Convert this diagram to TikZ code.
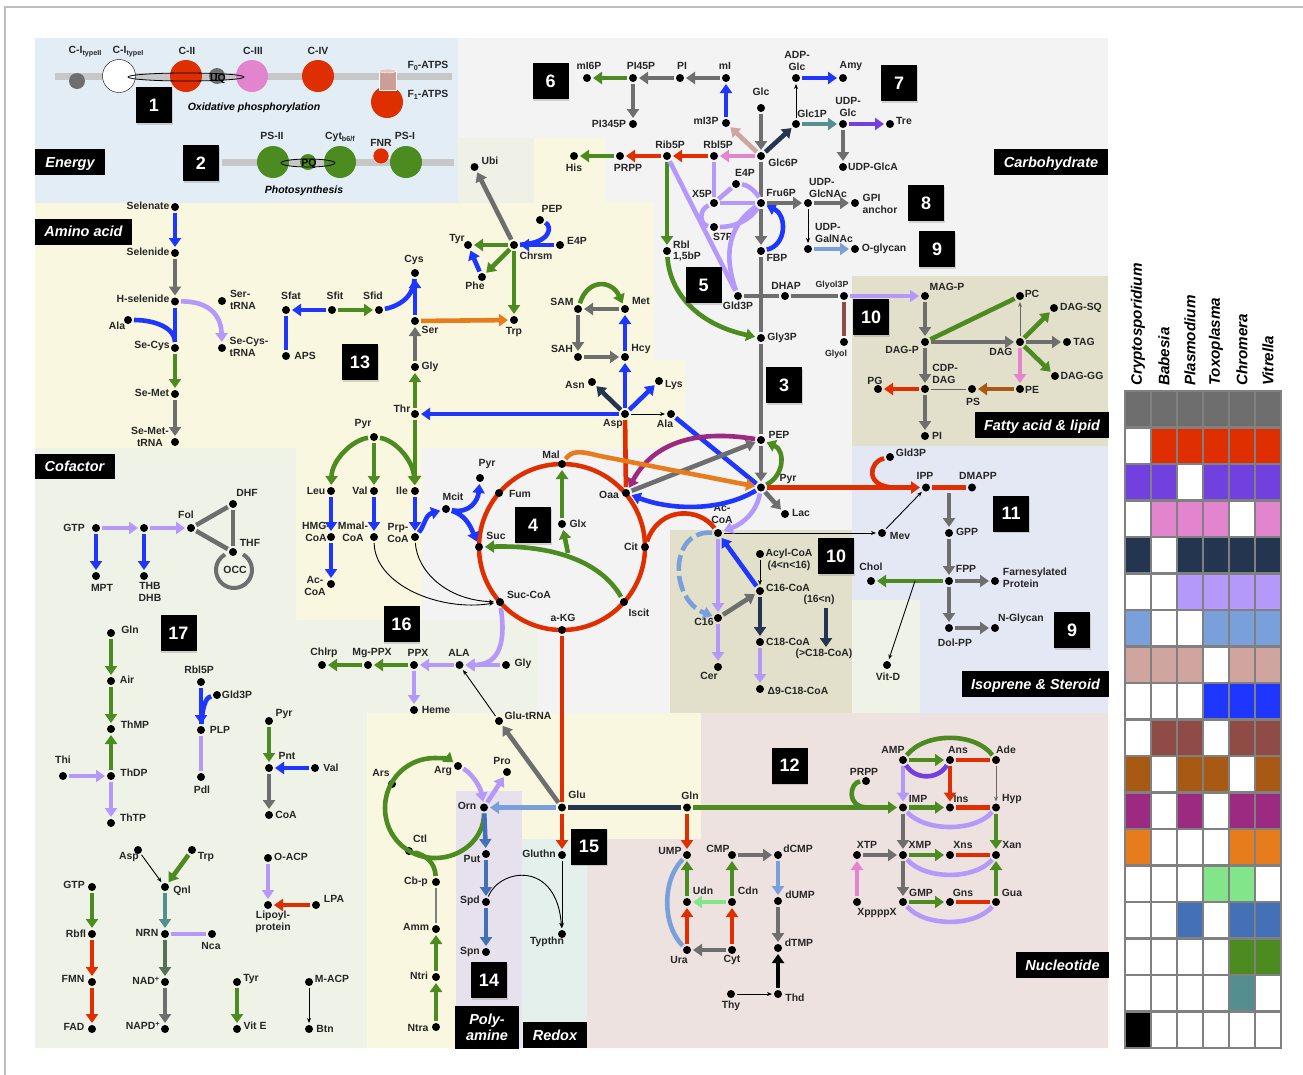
\documentclass[tikz,border=0pt]{standalone}
\usepackage{fontspec}
\setmainfont{Liberation Sans}
\usetikzlibrary{arrows.meta,shadows}
\definecolor{cRed}{HTML}{DF2E00}
\definecolor{cVio}{HTML}{7340E0}
\definecolor{cPink}{HTML}{E384CE}
\definecolor{cNavy}{HTML}{24364F}
\definecolor{cLav}{HTML}{B499FB}
\definecolor{cLtB}{HTML}{79A0DA}
\definecolor{cRose}{HTML}{D0A5A0}
\definecolor{cBlue}{HTML}{1F36FF}
\definecolor{cMar}{HTML}{8F4B46}
\definecolor{cBrn}{HTML}{A85A14}
\definecolor{cMag}{HTML}{9C2A80}
\definecolor{cOra}{HTML}{E67C1C}
\definecolor{cLtG}{HTML}{82E58A}
\definecolor{cMid}{HTML}{4470B8}
\definecolor{cGrn}{HTML}{4B8B20}
\definecolor{cTeal}{HTML}{548E8E}
\definecolor{cGry}{HTML}{6E6E6E}
\definecolor{cDkG}{HTML}{56705A}
\definecolor{bgEn}{HTML}{E3EDF5}
\definecolor{bgGr}{HTML}{F3F3F3}
\definecolor{bgYe}{HTML}{FAF7E0}
\definecolor{bgCo}{HTML}{EFF2E6}
\definecolor{bgLi}{HTML}{E2DFCB}
\definecolor{bgIs}{HTML}{E3E8F4}
\definecolor{bgNu}{HTML}{EEE2E0}
\definecolor{bgRe}{HTML}{E4F0EC}
\definecolor{bgPo}{HTML}{E6E1EC}
\definecolor{bgUb}{HTML}{EFF0E6}
\tikzset{
 pdot/.style={circle,fill=black,inner sep=0pt,minimum size=8pt,outer sep=2pt},
 lab/.style={inner sep=0pt,align=center,font=\fontsize{10.4}{11.6}\selectfont\bfseries,text=black!85},
 labl/.style={lab,align=left},
 ar/.style={line width=4.6pt,-{Triangle[length=9pt,width=12pt]}},
 ln/.style={line width=4.6pt},
 tar/.style={line width=.9pt,black,-{Stealth[length=5pt,width=4pt]}},
 blk/.style={fill=black,text=white,inner sep=0pt,align=center,font=\fontsize{14.5}{16}\selectfont\bfseries\itshape},
 blko/.style={blk,text height=12pt,text depth=2pt},
 num/.style={fill=black,text=white,inner sep=0pt,minimum size=36pt,font=\fontsize{18}{18}\selectfont\bfseries,drop shadow={shadow xshift=.6pt,shadow yshift=-1.5pt,opacity=.3}},
 blob/.style={circle,inner sep=0pt,minimum size=32pt},
 bar/.style={line width=7pt,black!22},
 ttl/.style={inner sep=0pt,font=\fontsize{10.5}{12}\selectfont\bfseries\itshape},
 col/.style={inner sep=0pt,rotate=90,anchor=west,font=\fontsize{15.2}{16}\selectfont\bfseries\itshape}
}
\newcommand\pt[6]{\node[pdot] (#1) at (#2,#3) {}; \node[lab] (#1L) at (#5,#6) {#4};}
\newcommand\ptl[6]{\node[pdot] (#1) at (#2,#3) {}; \node[labl] (#1L) at (#5,#6) {#4};}
\newcommand\arw[3]{\draw[ar,#1] (#2) -- (#3);}
\newcommand\lnk[3]{\draw[ln,#1] (#2) -- (#3);}
\newcommand\tnk[2]{\draw[tar] (#1) -- (#2);}
\newcommand\sbs[1]{\raisebox{-2.2pt}{\fontsize{7.2}{7}\selectfont #1}}
\begin{document}
\begin{tikzpicture}[x=1pt,y=-1pt]
\useasboundingbox (0,0) rectangle (1303,1074);
\fill[white] (0,0) rectangle (1303,1074);
\draw[black!25,line width=1.2pt] (5,1080) -- (5,7) -- (1310,7);
% backgrounds
\fill[bgGr] (422,38) rectangle (1108,713);
\fill[bgEn] (35,38) rectangle (458,203);
\fill[bgUb] (458,138) rectangle (534,203);
\fill[bgYe] (534,138) -- (605,138) -- (605,202) -- (654,202) -- (654,360) -- (685,360) -- (685,448) -- (422,448) -- (422,620) -- (296,620) -- (296,448) -- (35,448) -- (35,203) -- (534,203) -- cycle;
\fill[bgCo] (35,448) -- (296,448) -- (296,620) -- (537,620) -- (537,713) -- (367,713) -- (367,1048) -- (35,1048) -- cycle;
\fill[bgYe] (367,713) -- (701,713) -- (701,839) -- (522,839) -- (522,791) -- (456,791) -- (456,1048) -- (367,1048) -- cycle;
\fill[bgPo] (456,791) rectangle (522,1048);
\fill[bgRe] (522,839) rectangle (587,1048);
\fill[bgNu] (701,713) -- (1108,713) -- (1108,1048) -- (587,1048) -- (587,839) -- (701,839) -- cycle;
\fill[bgLi] (852,276) rectangle (1108,446);
\fill[bgLi] (670,530) rectangle (852,713);
\fill[bgIs] (852,446) rectangle (1108,713);
\fill[bgCo] (852,600) rectangle (920,713);
% energy
\draw[bar] (55,76) -- (452,76);
\draw[bar] (222,162) -- (454,162);
\node[blob,fill=cGry,minimum size=16pt] (c1b) at (77,81) {};
\node[blob,fill=white,draw=black,minimum size=33pt] (c1a) at (119,76) {};
\node[blob,fill=cRed] (c2) at (186,76) {};
\node[blob,fill=cGry,minimum size=16pt] (uq) at (217,76) {};
\node[blob,fill=cPink] (c3) at (252,76) {};
\node[blob,fill=cRed] (c4) at (318,76) {};
\node[blob,fill=cRed] (f1) at (387,102) {};
\fill[cRed!45!black!5!cRose,draw=white] (379,71) rectangle (396,90);
\draw[white,fill=cRose!60!white] (387.5,71) ellipse [x radius=8.5pt,y radius=2pt];
\draw[black,line width=.8pt] (186,77) ellipse [x radius=58pt,y radius=4pt];
\node[inner sep=0pt,font=\fontsize{10.5}{12}\selectfont\bfseries] (uqt) at (218,79) {UQ};
\node[blob,fill=cGrn] (p2) at (273,162) {};
\node[blob,fill=cGrn,minimum size=16pt] (pq) at (308,162) {};
\node[blob,fill=cGrn] (cyt) at (340,162) {};
\node[blob,fill=cGrn] (p1) at (406,162) {};
\node[blob,fill=cRed,draw=white,minimum size=16pt] (fnr) at (381,156) {};
\draw[black,line width=.8pt] (308,163) ellipse [x radius=27pt,y radius=4pt];
\node[inner sep=0pt,font=\fontsize{10.5}{12}\selectfont\bfseries] (pqt) at (309,164) {PQ};
\node[lab] (l1) at (85,52) {C-I\sbs{typeII}};
\node[lab] (l2) at (128,52) {C-I\sbs{typeI}};
\node[lab] (l3) at (187,51) {C-II};
\node[lab] (l4) at (253,51) {C-III};
\node[lab] (l5) at (318,51) {C-IV};
\node[lab] (l6) at (428,66) {F\sbs{0}-ATPS};
\node[lab] (l7) at (428,95) {F\sbs{1}-ATPS};
\node[ttl] (l8) at (254,108) {Oxidative phosphorylation};
\node[lab] (l9) at (272,136) {PS-II};
\node[lab] (l10) at (340,137) {Cyt\sbs{b6/f}};
\node[lab] (l11) at (381,143) {FNR};
\node[lab] (l12) at (405,136) {PS-I};
\node[ttl] (l13) at (304,191) {Photosynthesis};
% TCA cycle
\coordinate (tca) at (562,547);
\draw[cRed,line width=4.5pt] (tca) circle [radius=83pt];
% amino acid nodes
\pt{Selenate}{175}{207}{Selenate}{148}{205.5}
\pt{Selenide}{175}{253}{Selenide}{148}{252}
\pt{Hsel}{175}{301.5}{H-selenide}{143}{299}
\pt{AlaA}{128}{320}{Ala}{117}{326}
\pt{SeCys}{175}{348}{Se-Cys}{152}{346}
\pt{SeMet}{175}{394}{Se-Met}{152}{393}
\pt{SeMetT}{175}{442}{Se-Met-\\tRNA}{150}{437}
\ptl{SerT}{222}{301}{Ser-\\tRNA}{243}{300}
\ptl{SeCysT}{222}{348}{Se-Cys-\\tRNA}{249}{347}
\pt{Sfat}{286}{310}{Sfat}{291}{296}
\pt{Sfit}{332}{310}{Sfit}{335}{296}
\pt{Sfid}{379}{310}{Sfid}{373}{296}
\pt{APS}{286}{356}{APS}{305}{356}
\pt{Cys}{415}{273}{Cys}{414}{260}
\pt{Ser}{415}{321}{Ser}{430}{330}
\pt{Gly}{415}{367}{Gly}{430}{367}
\pt{Thr}{415}{414}{Thr}{402}{409}
\pt{Trp}{514}{320}{Trp}{514}{332}
\pt{Ubi}{474.5}{167}{Ubi}{490}{161}
\pt{Chrsm}{514}{245}{Chrsm}{536}{256}
\pt{Tyr}{468}{245}{Tyr}{457}{239}
\pt{Phe}{482}{277}{Phe}{475}{286}
\pt{PEPa}{540}{220}{PEP}{552}{209}
\pt{E4Pa}{560}{245}{E4P}{577}{241}
\pt{SAM}{578}{309}{SAM}{562}{302}
\pt{SAH}{578}{357}{SAH}{562}{349}
\pt{Met}{625}{309}{Met}{641}{301}
\pt{Hcy}{625}{357}{Hcy}{641}{349}
\pt{Asn}{592}{382}{Asn}{575}{385}
\pt{Asp}{625}{414}{Asp}{613}{424}
\pt{Lys}{659}{381}{Lys}{674}{385}
\pt{AlaB}{671}{414}{Ala}{665}{424}
\pt{PyrA}{374}{437}{Pyr}{363}{424}
\pt{Leu}{331}{491}{Leu}{316}{491}
\pt{Val}{374}{491}{Val}{360}{491}
\pt{Ile}{415}{491}{Ile}{402}{491}
\pt{HMG}{331}{537}{HMG-\\CoA}{316}{532}
\pt{Mmal}{374}{537}{Mmal-\\CoA}{353}{532}
\pt{Prp}{415}{537}{Prp-\\CoA}{398}{533}
\pt{AcA}{331}{584}{Ac-\\CoA}{315}{586}
\pt{Mcit}{446}{509}{Mcit}{453}{497}
\pt{PyrB}{480}{478}{Pyr}{487}{464}
\pt{Fum}{499}{493}{Fum}{520}{494}
\pt{Suc}{479}{547}{Suc}{496}{536}
\pt{SucCoA}{500}{602}{Suc-CoA}{529}{595}
\pt{aKG}{562}{630}{a-KG}{563}{618}
\pt{Iscit}{624}{602}{Iscit}{639}{613}
\pt{Cit}{645}{547}{Cit}{631}{547}
\pt{Oaa}{626}{493}{Oaa}{609}{495}
\pt{Mal}{562}{464}{Mal}{551}{455}
\pt{Glx}{562}{524}{Glx}{578}{524}
\pt{Chlrp}{322}{665}{Chlrp}{324}{653}
\pt{MgPPX}{368}{665}{Mg-PPX}{372}{653}
\pt{PPX}{414}{665}{PPX}{418}{653}
\pt{ALA}{459.5}{665}{ALA}{459}{653}
\pt{GlyB}{506}{665}{Gly}{523}{664}
\pt{Heme}{414}{710}{Heme}{436}{710}
\pt{GluT}{499}{721}{Glu-tRNA}{528}{716}
\pt{Glu}{562}{807.5}{Glu}{577}{795}
\pt{GlnA}{687}{807.5}{Gln}{690}{796}
\pt{Orn}{484}{807.5}{Orn}{467}{806}
\pt{Arg}{458}{766}{Arg}{443}{771}
\pt{Pro}{507}{772}{Pro}{502}{761}
\pt{Ars}{392}{784}{Ars}{381}{773}
\pt{Ctl}{409}{851}{Ctl}{420}{839}
\pt{Cbp}{436}{882}{Cb-p}{416}{882}
\pt{Amm}{436}{929}{Amm}{416}{927}
\pt{Ntri}{436}{977}{Ntri}{419}{976}
\pt{Ntra}{436}{1027}{Ntra}{418}{1028}
\pt{Put}{486}{854}{Put}{472}{859}
\pt{Spd}{486}{902}{Spd}{470}{901}
\pt{Spn}{486}{952}{Spn}{470}{952}
\pt{Gluthn}{562}{855}{Gluthn}{539}{854}
\pt{Typthn}{562}{934}{Typthn}{547}{942}
% nucleotide
\pt{UMP}{687}{855}{UMP}{670}{851}
\pt{Udn}{687}{902}{Udn}{703}{891}
\pt{Ura}{687}{950}{Ura}{679}{960}
\pt{CMP}{732}{855}{CMP}{718}{849}
\pt{Cdn}{732}{902}{Cdn}{748}{891}
\pt{Cyt}{732}{950}{Cyt}{732}{960}
\pt{dCMP}{778}{855}{dCMP}{798}{849}
\pt{dUMP}{778}{901}{dUMP}{800}{895}
\pt{dTMP}{778}{948}{dTMP}{799}{943}
\pt{Thd}{778}{994}{Thd}{795}{998}
\pt{Thy}{731}{994}{Thy}{731}{1006}
\pt{AMP}{903}{760}{AMP}{893}{750}
\pt{Ans}{950}{760}{Ans}{958}{750}
\pt{Ade}{996}{760}{Ade}{1006}{750}
\pt{IMP}{903}{807.5}{IMP}{918}{799}
\pt{Ins}{950}{807.5}{Ins}{961}{799}
\pt{Hyp}{996}{807.5}{Hyp}{1012}{799}
\pt{XMP}{903}{855}{XMP}{920}{845}
\pt{Xns}{950}{855}{Xns}{963}{845}
\pt{Xan}{996}{855}{Xan}{1012}{845}
\pt{GMP}{903}{902}{GMP}{921}{893}
\pt{Gns}{950}{902}{Gns}{963}{893}
\pt{Gua}{996}{902}{Gua}{1012}{893}
\pt{XTP}{857}{855}{XTP}{867}{845}
\pt{Xpp}{857}{902}{XppppX}{877}{913}
\pt{PRPPb}{866}{781}{PRPP}{864}{772}
% carbohydrate
\pt{mI6P}{587}{78}{mI6P}{589}{66}
\pt{PI45P}{633}{78}{PI45P}{641}{66}
\pt{PIa}{680}{78}{PI}{682}{66}
\pt{mI}{726}{78}{mI}{725}{66}
\pt{PI345P}{633}{124}{PI345P}{609}{124}
\pt{mI3P}{726}{123}{mI3P}{706}{121}
\pt{Glc}{761}{108}{Glc}{761}{92}
\pt{Glc6P}{761}{156}{Glc6P}{783}{163}
\pt{Rbl5P}{714}{156}{Rbl5P}{718}{145}
\pt{Rib5P}{667}{156}{Rib5P}{670}{145}
\pt{PRPPa}{620}{156}{PRPP}{628}{168}
\pt{His}{574}{156}{His}{574}{168}
\pt{E4P}{736}{184}{E4P}{745}{173}
\pt{X5P}{714}{203}{X5P}{702}{194}
\pt{Fru6P}{761}{203}{Fru6P}{781}{193}
\pt{S7P}{714}{227}{S7P}{723}{237}
\pt{FBP}{761}{251}{FBP}{777}{258}
\ptl{Rbl}{667}{251}{Rbl\\1,5bP}{687}{251}
\pt{Gld3P}{738}{296}{Gld3P}{738}{306}
\pt{DHAP}{785}{296}{DHAP}{786}{286}
\pt{Glyol3P}{844}{296}{\fontsize{8.8}{10}\selectfont Glyol3P}{832}{285}
\pt{Glyol}{844}{342}{\fontsize{8.8}{10}\selectfont Glyol}{836}{354}
\pt{Gly3P}{761}{338}{Gly3P}{782}{338}
\pt{ADPG}{796}{78}{ADP-\\Glc}{797}{61}
\pt{Amy}{843}{78}{Amy}{851}{66}
\pt{Glc1P}{796}{124}{Glc1P}{812}{114}
\pt{UDPG}{843}{124}{UDP-\\Glc}{848}{107}
\pt{Tre}{890}{124}{Tre}{904}{121}
\pt{UGlcA}{843}{167}{UDP-GlcA}{873}{167}
\ptl{UGNAc}{808}{203}{UDP-\\GlcNAc}{828}{188}
\ptl{GPI}{855}{203}{GPI\\anchor}{880}{204}
\ptl{UGalN}{808}{249}{UDP-\\GalNAc}{834}{233}
\pt{Ogly}{855}{249}{O-glycan}{884}{249}
% lipid
\pt{MAGP}{925}{296}{MAG-P}{947}{287}
\pt{DAGP}{925}{342}{DAG-P}{902}{350}
\pt{PC}{1020}{296}{PC}{1032}{294}
\pt{DAG}{1020}{342}{DAG}{1001}{352}
\pt{SQ}{1054}{308}{DAG-SQ}{1081}{308}
\pt{TAG}{1067}{342}{TAG}{1084}{342}
\pt{GG}{1055}{376}{DAG-GG}{1082}{376}
\pt{PE}{1020}{389}{PE}{1032}{390}
\pt{PS}{972}{389}{PS}{973}{402}
\ptl{CDP}{925}{389}{CDP-\\DAG}{945}{374}
\pt{PG}{878}{389}{PG}{875}{381}
\pt{PIb}{925}{436}{PI}{937}{436}
% isoprene
\pt{GldB}{890}{457}{Gld3P}{911}{453}
\pt{IPP}{926}{487.5}{IPP}{925}{476}
\pt{DMAPP}{972}{487.5}{DMAPP}{978}{476}
\pt{Mev}{882}{533}{Mev}{900}{536}
\pt{GPP}{949}{533}{GPP}{967}{532}
\pt{FPP}{949}{581}{FPP}{966}{569}
\pt{Chol}{871}{581}{Chol}{871}{567}
\ptl{Farn}{995}{581}{Farnesylated\\Protein}{1035}{578}
\pt{Dol}{949}{628}{Dol-PP}{955}{643}
\pt{NGly}{995}{628}{N-Glycan}{1021}{619}
\pt{VitD}{887}{665}{Vit-D}{888}{677}
% pyruvate, fatty acid
\pt{PEP}{761}{440}{PEP}{779}{435}
\pt{Pyr}{761}{487.5}{Pyr}{788}{479}
\pt{Lac}{785}{514}{Lac}{801}{513}
\pt{AcB}{718}{533}{Ac-\\CoA}{722}{514}
\pt{Acyl}{760}{554}{Acyl-CoA\\(4<n<16)}{789}{560}
\pt{C16C}{760}{591}{C16-CoA}{788}{588}
\pt{C16}{718}{618}{C16}{704}{622}
\pt{C18C}{760}{642}{C18-CoA}{788}{642}
\pt{Cer}{718}{667}{Cer}{709}{676}
\pt{Dnine}{760}{689}{Δ9-C18-CoA}{798}{691}
\node[lab] (n16) at (819,600) {(16<n)};
\node[lab] (gC18) at (824,654) {(>C18-CoA)};
\coordinate (nvA) at (826,608);
\coordinate (nvB) at (826,647);
% cofactor
\pt{GTPa}{96}{528}{GTP}{74}{528}
\node[pdot] (n2) at (144,528) {};
\pt{MPT}{96}{576}{MPT}{102}{588}
\pt{THB}{144}{576}{THB\\DHB}{150}{592}
\pt{Fol}{191}{528}{Fol}{186}{515}
\pt{DHF}{233}{504}{DHF}{247}{493}
\pt{THF}{233}{552}{THF}{250}{543}
\node[lab] (occ) at (235,570) {OCC};
\pt{GlnB}{111}{633}{Gln}{130}{630}
\pt{Air}{111}{681}{Air}{127}{680}
\pt{ThMP}{111}{729}{ThMP}{135}{725}
\pt{ThDP}{111}{776}{ThDP}{134}{773}
\pt{ThTP}{111}{823}{ThTP}{133}{818}
\pt{Thi}{63}{776}{Thi}{63}{760}
\pt{RblB}{201}{682}{Rbl5P}{199}{670}
\pt{GldC}{217}{695}{Gld3P}{237}{695}
\pt{PLP}{201}{730}{PLP}{220}{730}
\pt{Pdl}{201}{777}{Pdl}{202}{790}
\pt{PyrC}{269}{721}{Pyr}{284}{714}
\pt{Pnt}{269}{768}{Pnt}{287}{756}
\pt{ValB}{315}{768}{Val}{331}{768}
\pt{CoA}{269}{815}{CoA}{286}{815}
\pt{AspB}{138}{850}{Asp}{129}{857}
\pt{TrpB}{192}{850}{Trp}{206}{857}
\pt{Qnl}{165}{887}{Qnl}{182}{891}
\pt{OACP}{268}{858}{O-ACP}{291}{857}
\pt{LPA}{316}{905}{LPA}{334}{899}
\pt{Lipoyl}{268}{905}{Lipoyl-\\protein}{273}{922}
\pt{GTPb}{92}{887}{GTP}{74}{885}
\pt{Rbfl}{92}{934}{Rbfl}{76}{934}
\pt{FMN}{92}{982}{FMN}{73}{979}
\pt{FAD}{92}{1029}{FAD}{74}{1027}
\pt{NRN}{165}{934}{NRN}{147}{933}
\pt{Nca}{212}{934}{Nca}{211}{946}
\pt{NAD}{165}{982}{NAD\textsuperscript{+}}{146}{981}
\pt{NAPD}{165}{1029}{NAPD\textsuperscript{+}}{143}{1026}
\pt{TyrB}{237}{982}{Tyr}{251}{979}
\pt{VitE}{237}{1029}{Vit E}{255}{1026}
\pt{MACP}{309}{982}{M-ACP}{332}{979}
\pt{Btn}{309}{1029}{Btn}{325}{1029}
% free ends
\coordinate (branch) at (568,553);
\coordinate (gppS) at (949,493);
\coordinate (cholV) at (915,581);
\coordinate (ippS) at (895,487.5);
% connectors: amino acid
\arw{cBlue}{Selenate}{Selenide}
\arw{cGry}{Selenide}{Hsel}
\lnk{cBlue}{Hsel}{SeCys}
\draw[ln,cBlue] (AlaA) .. controls (155,320) and (175,328) .. (SeCys);
\arw{cGrn}{SeCys}{SeMet}
\arw{cGry}{SeMet}{SeMetT}
\draw[ar,cLav] (Hsel) .. controls (205,301) and (221,312) .. (SeCysT);
\arw{cBlue}{Sfit}{Sfat}
\arw{cGrn}{Sfit}{Sfid}
\lnk{cBlue}{Sfat}{APS}
\draw[ln,cBlue] (Sfid) .. controls (395,307) and (413,300) .. (Cys);
\arw{cBlue}{Ser}{Cys}
\arw{cGry}{Gly}{Ser}
\arw{cGrn}{Thr}{Gly}
\arw{cOra}{Ser}{Trp}
\arw{cGry}{Chrsm}{Ubi}
\draw[ln,cBlue] (PEPa) .. controls (552,226) and (552,243) .. (Chrsm);
\arw{cBlue}{E4Pa}{Chrsm}
\arw{cGrn}{Chrsm}{Tyr}
\arw{cGrn}{Chrsm}{Phe}
\arw{cBlue}{Phe}{Tyr}
\arw{cGrn}{Chrsm}{Trp}
\arw{cGry}{Met}{SAM}
\arw{cGry}{SAM}{SAH}
\arw{cGry}{SAH}{Hcy}
\arw{cBlue}{Hcy}{Met}
\draw[ar,cGrn] (SAM) .. controls (588,278) and (612,280) .. (Met);
\arw{cBlue}{Asp}{Hcy}
\arw{cNavy}{Asp}{Asn}
\arw{cBlue}{Asp}{Lys}
\tnk{Asp}{AlaB}
\arw{cBlue}{Asp}{Thr}
\lnk{cRed}{Asp}{Oaa}
\lnk{cBlue}{AlaB}{Pyr}
\draw[ar,cBlue] (Pyr) .. controls (720,512) and (670,510) .. (Oaa);
\arw{cGry}{Oaa}{PEP}
\draw[ar,cMag] (PEP) .. controls (700,430) and (655,440) .. (Oaa);
\draw[ar,cOra] (Mal) .. controls (572,450) and (580,451) .. (600,456) -- (Pyr);
\arw{cGrn}{Thr}{Ile}
\draw[ar,cGrn] (PyrA) .. controls (395,440) and (413,460) .. (Ile);
\draw[ar,cGrn] (PyrA) .. controls (352,440) and (332,460) .. (Leu);
\arw{cGrn}{PyrA}{Val}
\arw{cBlue}{Leu}{HMG}
\arw{cBlue}{HMG}{AcA}
\arw{cBlue}{Val}{Mmal}
\arw{cBlue}{Ile}{Prp}
\draw[ar,cBlue] (Prp) .. controls (425,525) and (425,515) .. (Mcit);
\draw[ar,cBlue] (Mcit) .. controls (470,514) and (478,500) .. (PyrB);
\draw[ar,cBlue] (Mcit) .. controls (465,515) and (470,525) .. (Suc);
\draw[tar] (Mmal) .. controls (375,585) and (440,612) .. (SucCoA);
\draw[tar] (Prp) .. controls (417,570) and (445,600) .. (SucCoA);
\draw[ar,cGrn] (Iscit) .. controls (600,560) and (550,545) .. (Suc);
\draw[ar,cGrn] (branch) -- (Glx);
\arw{cGrn}{Glx}{Mal}
\draw[ln,cRed] (AcB) .. controls (700,508) and (660,505) .. (Cit);
\draw[ar,cLav] (SucCoA) .. controls (507,650) and (495,665) .. (ALA);
\arw{cLav}{GlyB}{ALA}
\arw{cLav}{ALA}{PPX}
\arw{cGrn}{PPX}{MgPPX}
\arw{cGrn}{MgPPX}{Chlrp}
\arw{cLav}{PPX}{Heme}
\tnk{GluT}{ALA}
\arw{cGry}{Glu}{GluT}
\lnk{cRed}{aKG}{Glu}
\arw{cRed}{Glu}{Gluthn}
\arw{cLtB}{Glu}{Orn}
\lnk{cNavy}{Glu}{GlnA}
\arw{cGrn}{GlnA}{IMP}
\draw[ln,cGrn] (PRPPb) .. controls (850,782) and (845,807.5) .. (868,807.5);
\arw{cRed}{GlnA}{UMP}
\draw[ar,cLav] (Arg) .. controls (470,772) and (480,785) .. (Orn);
\arw{cLav}{Orn}{Pro}
\draw[ar,cGrn] (Orn) .. controls (484,838) and (462,858) .. (435,858) .. controls (407,858) and (385,836) .. (385,808) .. controls (385,780) and (407,758) .. (435,758) .. controls (442,758) and (449,759) .. (Arg);
\draw[ln,cGrn] (Ctl) .. controls (425,855) and (435,862) .. (Cbp);
\draw[gray,line width=1.5pt] (Cbp) -- (Amm);
\arw{cGrn}{Ntri}{Amm}
\arw{cGrn}{Ntra}{Ntri}
\arw{cMid}{Orn}{Put}
\arw{cMid}{Put}{Spd}
\arw{cMid}{Spd}{Spn}
\draw[tar] (Spd) .. controls (500,868) and (557,860) .. (Typthn);
\tnk{Gluthn}{Typthn}
% connectors: nucleotide
\draw[ln,cLtB] (Ura) .. controls (662,925) and (662,880) .. (UMP);
\arw{cRed}{Ura}{Udn}
\arw{cGrn}{Udn}{UMP}
\arw{cLtG}{Cdn}{Udn}
\arw{cGry}{Cyt}{Ura}
\arw{cRed}{Cyt}{Cdn}
\arw{cGrn}{Cdn}{CMP}
\arw{cGry}{CMP}{dCMP}
\arw{cLtB}{dCMP}{dUMP}
\arw{cGry}{dUMP}{dTMP}
\arw{black}{Thd}{dTMP}
\tnk{Thy}{Thd}
\arw{cGrn}{AMP}{Ans}
\arw{cLav}{AMP}{IMP}
\arw{cRed}{Ans}{Ins}
\lnk{cRed}{Ans}{Ade}
\draw[tar,black!60] (Ade) -- (Hyp);
\draw[ln,cGrn] (AMP) .. controls (925,732) and (975,732) .. (Ade);
\draw[ln,cVio] (AMP) .. controls (915,780) and (938,780) .. (Ans);
\arw{cGrn}{IMP}{Ins}
\lnk{cRed}{Ins}{Hyp}
\draw[ln,cLav] (IMP) .. controls (925,832) and (975,832) .. (Hyp);
\arw{cGry}{IMP}{XMP}
\arw{cGrn}{Hyp}{Xan}
\arw{cGrn}{XMP}{Xns}
\lnk{cRed}{Xns}{Xan}
\draw[ln,cLav] (XMP) .. controls (925,880) and (975,880) .. (Xan);
\arw{cGry}{XMP}{GMP}
\arw{cGry}{XTP}{XMP}
\arw{cPink}{Xpp}{XTP}
\arw{cGrn}{GMP}{Gns}
\lnk{cRed}{Gns}{Gua}
\draw[ln,cLav] (GMP) .. controls (925,927) and (975,927) .. (Gua);
\arw{cGrn}{Gua}{Xan}
% connectors: carbohydrate
\arw{cGry}{mI}{PIa}
\arw{cGry}{PIa}{PI45P}
\arw{cGrn}{PI45P}{mI6P}
\arw{cGry}{PI45P}{PI345P}
\arw{cBlue}{mI3P}{mI}
\arw{cRose}{Glc6P}{mI3P}
\arw{cGry}{Glc}{Glc6P}
\arw{cNavy}{Glc6P}{Glc1P}
\arw{cPink}{Glc6P}{Rbl5P}
\arw{cRed}{Rbl5P}{Rib5P}
\arw{cRed}{Rib5P}{PRPPa}
\arw{cGrn}{PRPPa}{His}
\arw{cGrn}{Rib5P}{Rbl}
\draw[ar,cGrn] (Rbl) .. controls (670,295) and (700,325) .. (Gly3P);
\lnk{cGry}{Glc6P}{Fru6P}
\arw{cGry}{Fru6P}{FBP}
\draw[ar,cBlue] (FBP) .. controls (787,245) and (787,215) .. (Fru6P);
\lnk{cGry}{FBP}{Gly3P}
\lnk{cGry}{Gly3P}{PEP}
\arw{cGry}{PEP}{Pyr}
\draw[ar,cGrn] (Pyr) .. controls (785,475) and (785,450) .. (PEP);
\lnk{cGry}{Gld3P}{DHAP}
\lnk{cGry}{DHAP}{Glyol3P}
\lnk{cMar}{Glyol3P}{Glyol}
\arw{cLav}{Glyol3P}{MAGP}
\lnk{cLav}{Rbl5P}{X5P}
\lnk{cLav}{X5P}{Fru6P}
\lnk{cLav}{Rib5P}{Gld3P}
\lnk{cLav}{E4P}{X5P}
\draw[ln,cLav] (E4P) .. controls (750,185) and (758,195) .. (Fru6P);
\draw[ln,cLav] (S7P) .. controls (735,227) and (750,220) .. (Fru6P);
\draw[ln,cLav] (Gld3P) .. controls (725,260) and (725,228) .. (Fru6P);
\draw[ln,cLav] (X5P) .. controls (698,210) and (700,225) .. (S7P);
\tnk{Glc1P}{ADPG}
\arw{cBlue}{ADPG}{Amy}
\arw{cTeal}{Glc1P}{UDPG}
\arw{cVio}{UDPG}{Tre}
\arw{cGry}{UDPG}{UGlcA}
\arw{cGry}{Fru6P}{UGNAc}
\arw{cGry}{UGNAc}{GPI}
\tnk{UGNAc}{UGalN}
\arw{cLtB}{UGalN}{Ogly}
% connectors: lipid
\arw{cGry}{MAGP}{DAGP}
\arw{cGry}{DAGP}{DAG}
\lnk{cGrn}{DAGP}{PC}
\draw[tar,black!60] (DAG) -- (PC);
\arw{cGrn}{DAG}{SQ}
\arw{cGry}{DAG}{TAG}
\arw{cGrn}{DAG}{GG}
\arw{cPink}{DAG}{PE}
\arw{cBrn}{PE}{PS}
\draw[black!60,line width=1pt] (PS) -- (CDP);
\arw{cGry}{DAGP}{CDP}
\arw{cRed}{CDP}{PG}
\arw{cGry}{CDP}{PIb}
% connectors: isoprene
\arw{cRed}{Pyr}{IPP}
\draw[ln,cRed] (GldB) .. controls (868,462) and (865,487.5) .. (ippS);
\lnk{cRed}{IPP}{DMAPP}
\draw[ar,cGry] (gppS) -- (GPP);
\arw{cGry}{GPP}{FPP}
\arw{cGrn}{FPP}{Chol}
\arw{cGry}{FPP}{Farn}
\arw{cGry}{FPP}{Dol}
\arw{cGry}{Dol}{NGly}
\tnk{Mev}{IPP}
\tnk{AcB}{Mev}
\tnk{cholV}{VitD}
% connectors: pyruvate and fatty acid
\draw[ar,cLav] (Pyr) .. controls (757,510) and (745,523) .. (AcB);
\arw{cGry}{Pyr}{Lac}
\arw{cLav}{AcB}{C16}
\arw{cBlue}{C16C}{AcB}
\draw[ar,cLtB,dash pattern=on 16pt off 5pt] (AcB) .. controls (668,530) and (670,600) .. (C16);
\tnk{Acyl}{C16C}
\arw{cGry}{C16}{C16C}
\arw{cNavy}{C16C}{C18C}
\arw{cLav}{C18C}{Dnine}
\arw{cLav}{C16}{Cer}
\arw{cNavy}{nvA}{nvB}
% connectors: cofactor
\arw{cLav}{GTPa}{n2}
\arw{cLav}{n2}{Fol}
\arw{cBlue}{GTPa}{MPT}
\arw{cBlue}{n2}{THB}
\lnk{cGry}{Fol}{DHF}
\lnk{cGry}{Fol}{THF}
\lnk{cGry}{DHF}{THF}
\draw[cGry,line width=4pt] (243,554.4) arc [start angle=60,end angle=-240,radius=18pt];
\arw{cGrn}{GlnB}{Air}
\arw{cGrn}{Air}{ThMP}
\arw{cGrn}{ThDP}{ThMP}
\arw{cLav}{Thi}{ThDP}
\arw{cLav}{ThDP}{ThTP}
\arw{cBlue}{RblB}{PLP}
\draw[ln,cBlue] (GldC) .. controls (208,697) and (203,700) .. (PLP);
\lnk{cLav}{PLP}{Pdl}
\arw{cGrn}{PyrC}{Pnt}
\arw{cBlue}{ValB}{Pnt}
\arw{cGry}{Pnt}{CoA}
\tnk{AspB}{Qnl}
\arw{cGrn}{TrpB}{Qnl}
\arw{cTeal}{Qnl}{NRN}
\lnk{cLav}{Nca}{NRN}
\arw{cDkG}{NRN}{NAD}
\arw{cGry}{NAD}{NAPD}
\arw{cGrn}{GTPb}{Rbfl}
\arw{cRed}{Rbfl}{FMN}
\arw{cRed}{FMN}{FAD}
\arw{cGrn}{TyrB}{VitE}
\tnk{MACP}{Btn}
\arw{cLav}{OACP}{Lipoyl}
\arw{cRed}{LPA}{Lipoyl}
% number boxes
\node[num] (b1) at (154,105) {1};
\node[num] (b2) at (201,163) {2};
\node[num] (b3) at (784,385) {3};
\node[num] (b4) at (533,525) {4};
\node[num] (b5) at (703.5,285) {5};
\node[num] (b6) at (550.5,81) {6};
\node[num] (b7) at (899,83) {7};
\node[num] (b8) at (926,203) {8};
\node[num] (b9) at (937,249) {9};
\node[num] (b10) at (871,317) {10};
\node[num] (b10b) at (836,556) {10};
\node[num] (b11) at (1011,513.5) {11};
\node[num] (b9b) at (1072,630) {9};
\node[num] (b12) at (789.5,765.5) {12};
\node[num] (b13) at (360,362) {13};
\node[num] (b14) at (489,980) {14};
\node[num] (b15) at (589,846.5) {15};
\node[num] (b16) at (401.5,624) {16};
\node[num] (b17) at (178.5,633) {17};
% category labels
\node[blko,minimum width=70pt,minimum height=26pt] (kEn) at (70,162) {Energy};
\node[blko,minimum width=97pt,minimum height=26pt] (kAm) at (83.5,231.5) {Amino acid};
\node[blko,minimum width=80pt,minimum height=25pt] (kCo) at (74.5,466) {Cofactor};
\node[blko,minimum width=114pt,minimum height=26pt] (kCa) at (1051,162) {Carbohydrate};
\node[blko,minimum width=134pt,minimum height=26pt] (kFa) at (1042,425) {Fatty acid \& lipid};
\node[blko,minimum width=147pt,minimum height=26pt] (kIs) at (1035.5,684) {Isoprene \& Steroid};
\node[blko,minimum width=93pt,minimum height=26pt] (kNu) at (1062.5,965) {Nucleotide};
\node[blk,minimum width=64pt,minimum height=43pt] (kPo) at (487,1027) {Poly-\\amine};
\node[blko,minimum width=64pt,minimum height=26pt] (kRe) at (555,1035) {Redox};
% table
\foreach \rw [count=\j from 0] in {
 {cGry,cGry,cGry,cGry,cGry,cGry},
 {white,cRed,cRed,cRed,cRed,cRed},
 {cVio,cVio,white,cVio,cVio,cVio},
 {white,cPink,cPink,cPink,white,cPink},
 {cNavy,white,cNavy,cNavy,cNavy,cNavy},
 {white,white,cLav,cLav,cLav,cLav},
 {cLtB,white,white,cLtB,cLtB,cLtB},
 {cRose,cRose,cRose,white,cRose,cRose},
 {white,white,white,cBlue,cBlue,cBlue},
 {white,cMar,cMar,white,cMar,cMar},
 {cBrn,white,cBrn,cBrn,white,cBrn},
 {cMag,white,cMag,white,cMag,cMag},
 {cOra,white,white,white,cOra,cOra},
 {white,white,white,cLtG,cLtG,white},
 {white,white,cMid,white,cMid,cMid},
 {white,white,white,white,cGrn,cGrn},
 {white,white,white,white,cTeal,white},
 {black,white,white,white,white,white}} {
 \foreach \c [count=\i from 0] in \rw {
  \draw[fill=\c,draw=black!50,line width=2.5pt] ({1125+\i*26},{391+\j*36.5}) rectangle +(26,36.5);
 }
}
\node[col] (h1) at (1138,386) {Cryptosporidium};
\node[col] (h2) at (1164,386) {Babesia};
\node[col] (h3) at (1190,386) {Plasmodium};
\node[col] (h4) at (1216,386) {Toxoplasma};
\node[col] (h5) at (1242,386) {Chromera};
\node[col] (h6) at (1268,386) {Vitrella};
\end{tikzpicture}
\end{document}
